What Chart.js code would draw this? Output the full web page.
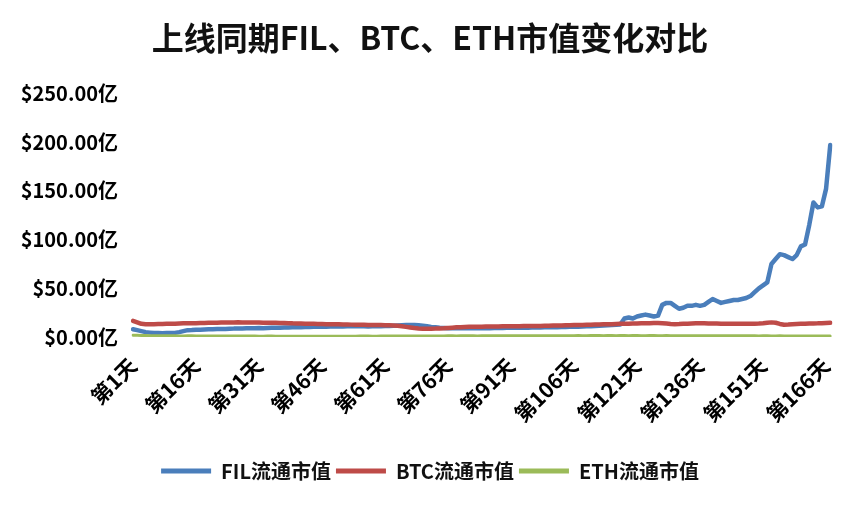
<!DOCTYPE html>
<html>
<head>
<meta charset="utf-8">
<script src="https://cdn.jsdelivr.net/npm/chart.js@4.4.1/dist/chart.umd.min.js"></script>
<style>
  html, body { margin: 0; padding: 0; background: #fff; }
  #wrap { width: 860px; height: 506px; }
</style>
</head>
<body>
<div id="wrap"><canvas id="chart" width="860" height="506"></canvas></div>
<script>
// 上线后第 N 天
const DAY_COUNT = 167;
const dayLabels = [];
for (let i = 1; i <= DAY_COUNT; i++) dayLabels.push(`第${i}天`);

const yTicks = [0, 50, 100, 150, 200, 250];

// 流通市值，单位：亿美元
const filValues = [
  8, 7, 6, 5, 4.5, 4, 4, 3.8, 4, 4,
  4.2, 5, 6, 7, 7.2, 7.5, 7.5, 7.8, 8, 8,
  8.2, 8.3, 8.2, 8.5, 8.6, 8.8, 8.7, 8.9, 9, 9,
  9.2, 9.1, 9.3, 9.4, 9.5, 9.6, 9.7, 9.8, 9.9, 10,
  10.1, 10.2, 10.3, 10.4, 10.5, 10.5, 10.6, 10.7, 10.8, 10.8,
  10.9, 11, 11, 11.1, 11, 11, 10.9, 11, 11.1, 11,
  11.2, 11.4, 11.6, 11.8, 12, 12.2, 12.3, 12.2, 12, 11.6,
  11, 10.4, 10, 9.6, 9.3, 9, 9, 8.9, 9, 9,
  9.1, 9, 9, 9.2, 9.1, 9, 9.2, 9.3, 9.2, 9.4,
  9.5, 9.4, 9.5, 9.6, 9.5, 9.7, 9.8, 9.8, 10, 9.9,
  10, 10.1, 10.2, 10.3, 10.4, 10.5, 10.6, 10.8, 11, 11.1,
  11.3, 11.5, 11.8, 12, 12.2, 12.5, 12.8, 19, 20, 19,
  21, 22, 23, 22, 21, 22, 33, 35, 35, 32,
  29, 30, 32, 32, 33, 32, 33, 36, 39, 37,
  35, 36, 37, 38, 38, 39, 40, 42, 46, 50,
  53, 56, 75, 80, 85, 84, 82, 80, 84, 93,
  95, 115, 138, 133, 134, 152, 197
];

const btcValues = [
  16.5, 15, 13.5, 13, 13, 13.2, 13.3, 13.4, 13.5, 13.5,
  13.6, 13.8, 14, 14, 14.1, 14.2, 14.3, 14.4, 14.5, 14.6,
  14.7, 14.8, 14.9, 15, 15, 15.1, 15, 15, 14.9, 14.8,
  14.8, 14.7, 14.6, 14.6, 14.5, 14.4, 14.3, 14.2, 14, 13.9,
  13.8, 13.7, 13.6, 13.5, 13.4, 13.3, 13.2, 13.1, 13, 13,
  12.9, 12.8, 12.7, 12.6, 12.6, 12.5, 12.4, 12.4, 12.3, 12.2,
  12.1, 12, 11.8, 11.5, 11, 10.4, 9.8, 9.2, 8.8, 8.5,
  8.4, 8.5, 8.6, 8.8, 9, 9.3, 9.6, 9.9, 10.1, 10.3,
  10.4, 10.5, 10.5, 10.6, 10.7, 10.8, 10.8, 10.9, 11, 11,
  11, 11.1, 11.1, 11.2, 11.2, 11.3, 11.3, 11.4, 11.5, 11.6,
  11.7, 11.8, 11.9, 12, 12.1, 12.2, 12.3, 12.4, 12.5, 12.6,
  12.8, 12.9, 13, 13.1, 13.2, 13.4, 13.5, 13.6, 13.7, 13.8,
  13.9, 14, 14.1, 14.2, 14.3, 14.3, 14.2, 13.8, 13.4, 13.2,
  13.3, 13.5, 13.6, 13.8, 14, 14.1, 14, 13.9, 13.8, 13.8,
  13.7, 13.6, 13.6, 13.5, 13.6, 13.7, 13.6, 13.6, 13.7, 13.9,
  14.2, 14.6, 15, 14.6, 13.4, 12.6, 12.8, 13.2, 13.4, 13.5,
  13.6, 13.8, 13.9, 14, 14.2, 14.4, 14.6
];

const ethValues = [
  1.8, 1.7, 1.6, 1.5, 1.4, 1.4, 1.3, 1.3, 1.2, 1.2,
  1.2, 1.1, 1.1, 1.2, 1.2, 1.1, 1.1, 1.0, 1.0, 1.1,
  1.1, 1.0, 1.0, 0.9, 0.9, 1.0, 1.0, 0.9, 0.9, 0.9,
  0.8, 0.8, 0.9, 0.9, 0.8, 0.8, 0.8, 0.7, 0.7, 0.8,
  0.8, 0.7, 0.7, 0.7, 0.8, 0.8, 0.7, 0.7, 0.7, 0.7,
  0.7, 0.8, 0.8, 0.8, 0.9, 0.9, 0.9, 0.8, 0.8, 0.9,
  0.9, 0.9, 1.0, 1.0, 0.9, 0.9, 1.0, 1.0, 1.0, 1.1,
  1.1, 1.0, 1.0, 1.1, 1.1, 1.2, 1.2, 1.1, 1.2, 1.2,
  1.2, 1.2, 1.1, 1.2, 1.2, 1.3, 1.3, 1.2, 1.3, 1.3,
  1.3, 1.3, 1.2, 1.3, 1.3, 1.3, 1.4, 1.3, 1.3, 1.4,
  1.4, 1.4, 1.3, 1.4, 1.4, 1.4, 1.5, 1.4, 1.4, 1.5,
  1.5, 1.5, 1.4, 1.5, 1.5, 1.4, 1.5, 1.5, 1.4, 1.5,
  1.5, 1.4, 1.4, 1.5, 1.5, 1.4, 1.4, 1.5, 1.4, 1.4,
  1.4, 1.3, 1.4, 1.4, 1.3, 1.3, 1.4, 1.3, 1.3, 1.3,
  1.2, 1.3, 1.3, 1.2, 1.2, 1.3, 1.2, 1.2, 1.2, 1.1,
  1.2, 1.2, 1.1, 1.1, 1.2, 1.1, 1.1, 1.1, 1.0, 1.1,
  1.1, 1.0, 1.0, 1.1, 1.0, 1.0, 1.0
];

const FONT = "'Noto Sans CJK SC', 'Microsoft YaHei', sans-serif";

new Chart(document.getElementById("chart"), {
  type: "line",
  data: {
    labels: dayLabels,
    datasets: [
      { label: "FIL流通市值", data: filValues, borderColor: "#4a7ebb", backgroundColor: "#4a7ebb", borderWidth: 4.5, order: 3 },
      { label: "BTC流通市值", data: btcValues, borderColor: "#be4b48", backgroundColor: "#be4b48", borderWidth: 4.5, order: 2 },
      { label: "ETH流通市值", data: ethValues, borderColor: "#9bbb59", backgroundColor: "#9bbb59", borderWidth: 3, order: 1 }
    ]
  },
  options: {
    responsive: false,
    animation: false,
    layout: { padding: { left: 0, right: 0, top: 0, bottom: 15 } },
    elements: { point: { radius: 0 }, line: { tension: 0, borderJoinStyle: "round", borderCapStyle: "round" } },
    plugins: {
      title: {
        display: true,
        text: "上线同期FIL、BTC、ETH市值变化对比",
        color: "#111",
        font: { family: FONT, size: 32, weight: "bold" },
        padding: { top: 19, bottom: 36 }
      },
      legend: {
        position: "bottom",
        labels: {
          color: "#111",
          font: { family: FONT, size: 20, weight: "bold" },
          boxWidth: 50,
          boxHeight: 5,
          padding: 5,
          sort: (a, b) => a.datasetIndex - b.datasetIndex,
          generateLabels: chart => Chart.defaults.plugins.legend.labels.generateLabels(chart)
            .map(item => Object.assign(item, { lineWidth: 0 }))
        }
      },
      tooltip: { enabled: false }
    },
    scales: {
      x: {
        grid: { display: false, drawTicks: false },
        border: { display: false },
        afterFit: scale => { scale.height = 119; },
        ticks: {
          autoSkip: false,
          minRotation: 45,
          maxRotation: 45,
          padding: 16,
          color: "#000",
          font: { family: FONT, size: 21, weight: "bold" },
          callback: (val, idx) => (idx % 15 === 0 ? dayLabels[idx] : null)
        }
      },
      y: {
        min: 0,
        max: 250,
        grid: { display: false, drawTicks: false },
        border: { display: false },
        afterFit: scale => { scale.width = 133; },
        afterBuildTicks: scale => { scale.ticks = yTicks.map(v => ({ value: v })); },
        ticks: {
          padding: 15,
          color: "#000",
          font: { family: FONT, size: 20, weight: "bold" },
          callback: v => "$" + Number(v).toFixed(2) + "亿"
        }
      },
      // 右侧留白
      yRight: {
        position: "right",
        min: 0,
        max: 250,
        grid: { display: false, drawTicks: false },
        border: { display: false },
        ticks: { display: false },
        afterFit: scale => { scale.width = 21; }
      }
    }
  }
});
</script>
</body>
</html>
